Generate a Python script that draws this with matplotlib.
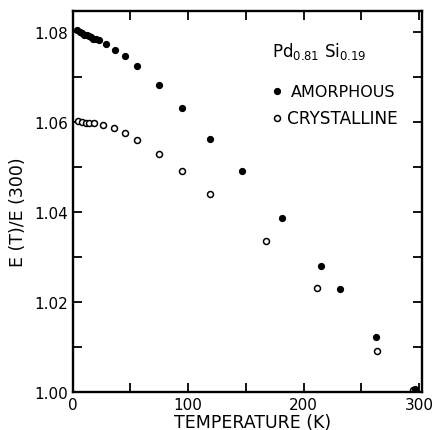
import matplotlib
matplotlib.use("Agg")
import matplotlib.pyplot as plt
from matplotlib.ticker import MultipleLocator

plt.rcParams['font.family'] = 'DejaVu Sans'
plt.rcParams['mathtext.default'] = 'regular'

# amorfo (puntos llenos)
t_amorfo = [4, 6, 8, 10, 12, 14, 16, 18, 20, 23, 28.8, 36.9, 45.2, 55.9, 74.9,
            94.6, 118.8, 146.7, 180.8, 215.1, 231.2, 263, 296]
e_amorfo = [1.0803, 1.0800, 1.0797, 1.0794, 1.0792, 1.0790, 1.0788, 1.0785, 1.0783,
            1.0781, 1.0773, 1.0760, 1.0747, 1.0724, 1.0681, 1.0630, 1.0563, 1.0490,
            1.0386, 1.0280, 1.0229, 1.0122, 1.0008]

# cristalino (circulos abiertos)
t_crist = [4.8, 7.8, 11.2, 14.4, 18.2, 26, 35.5, 45, 55.9, 74.9, 94.6, 118.8,
           167, 211.6, 263.5, 294.6]
e_crist = [1.0601, 1.0600, 1.0598, 1.0598, 1.0597, 1.0593, 1.0586, 1.0576, 1.0560,
           1.0528, 1.0490, 1.0439, 1.0336, 1.0231, 1.0091, 1.0005]

fig = plt.figure(figsize=(4.35, 4.31), dpi=100)
ax = fig.add_axes([0.167, 0.0875, 0.802, 0.8855])

ax.plot(t_crist, e_crist, 'o', mfc='white', mec='black', mew=1.1, ms=4.3, ls='none')
ax.plot(t_amorfo, e_amorfo, 'o', color='black', ms=4.2, ls='none')

ax.set_xlim(0, 302)
ax.set_ylim(1.0, 1.0847)
ax.xaxis.set_major_locator(MultipleLocator(100))
ax.xaxis.set_minor_locator(MultipleLocator(50))
ax.yaxis.set_major_locator(MultipleLocator(0.02))
ax.yaxis.set_minor_locator(MultipleLocator(0.01))
ax.yaxis.set_major_formatter(plt.FuncFormatter(lambda v, p: f"{v:.2f}"))

ax.tick_params(which='both', direction='in', top=True, right=True,
               length=6.5, width=1.3, labelsize=11)
for s in ax.spines.values():
    s.set_linewidth(1.7)

ax.set_xlabel("TEMPERATURE (K)", fontsize=12.5, labelpad=0)
ax.xaxis.set_label_coords(0.517, -0.055)
ax.set_ylabel("E (T)/E (300)", fontsize=12.5)
ax.yaxis.set_label_coords(-0.13, 0.475)

ax.text(0.57, 0.88, r'Pd$_{0.81}$ Si$_{0.19}$', transform=ax.transAxes, fontsize=12)
ax.plot([0.585], [0.789], 'o', color='black', ms=4.2, transform=ax.transAxes)
ax.text(0.625, 0.789, "AMORPHOUS", transform=ax.transAxes, fontsize=11.5, va='center')
ax.plot([0.585], [0.719], 'o', mfc='white', mec='black', mew=1.1, ms=4.3,
        transform=ax.transAxes)
ax.text(0.615, 0.719, "CRYSTALLINE", transform=ax.transAxes, fontsize=12.2, va='center')

fig.savefig("out.png", dpi=100)
plt.close()
